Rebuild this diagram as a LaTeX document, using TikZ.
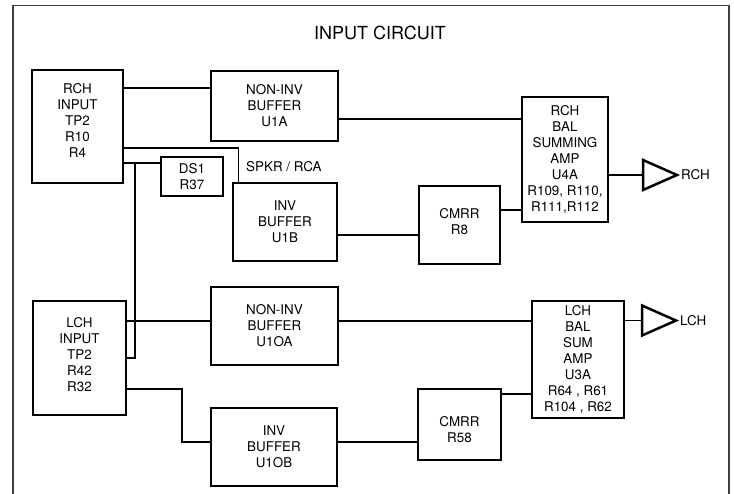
\documentclass[tikz,border=0pt]{standalone}
\usepackage{fontspec}
\setmainfont{TeX Gyre Heros}
\usetikzlibrary{shapes.geometric}
\begin{document}
\begin{tikzpicture}[x=1pt,y=-1pt,
  blk/.style={draw, line width=2.8pt, align=center, inner sep=0pt, outer sep=0pt, font=\fontsize{13.4}{16}\selectfont},
  wire/.style={line width=1.8pt},
  amp/.style={draw, isosceles triangle, isosceles triangle stretches, shape border rotate=0, minimum width=30pt, minimum height=34pt, inner sep=0pt, outer sep=0pt, line width=2.5pt, line join=miter},
  lbl/.style={font=\fontsize{13.4}{16}\selectfont, inner sep=0pt, align=center}]
\useasboundingbox (0,0) rectangle (734,493);
\draw[line width=1.4pt, black!75] (13,500) -- (13,5.5) -- (729,5.5) -- (729,500);
\node[font=\fontsize{18}{20}\selectfont] (title) at (380,33) {INPUT CIRCUIT};
% RCH boxes
\node[blk, minimum width=91pt, minimum height=113pt, label={[lbl, yshift=6pt]center:RCH\\INPUT\\TP2\\R10\\R4}] (rin) at (77.5,126.5) {};
\node[blk, minimum width=127pt, minimum height=70pt] (u1a) at (274.5,106) {NON-INV\\BUFFER\\U1A};
\node[blk, minimum width=104pt, minimum height=78pt] (u1b) at (285,222) {INV\\BUFFER\\U1B};
\node[blk, minimum width=81pt, minimum height=78pt, label={[lbl, yshift=3pt]center:CMRR\\R8}] (cm8) at (459.5,225) {};
\node[blk, minimum width=86pt, minimum height=125pt] (rbal) at (565,159.5) {RCH\\BAL\\SUMMING\\AMP\\U4A\\R109, R110,\\R111,R112};
\node[blk, minimum width=62pt, minimum height=39pt] (ds1) at (192,176.5) {DS1\\R37};
\node[amp, anchor=lower side] (amp1) at (643,175) {};
\node[lbl, anchor=west] (rchout) at ([xshift=4pt]amp1.apex) {RCH};
\node[lbl, anchor=west] (spkr) at (246,167) {SPKR / RCA};
% LCH boxes
\node[blk, minimum width=93pt, minimum height=114pt, label={[lbl, yshift=3.5pt]center:LCH\\INPUT\\TP2\\R42\\R32}] (lin) at (79.5,358) {};
\node[blk, minimum width=127pt, minimum height=78pt] (u1oa) at (274.5,326) {NON-INV\\BUFFER\\U1OA};
\node[blk, minimum width=92pt, minimum height=117pt] (lbal) at (578,359.5) {LCH\\BAL\\SUM\\AMP\\U3A\\R64 , R61\\R104 , R62};
\node[blk, minimum width=126pt, minimum height=78pt] (u1ob) at (274,447) {INV\\BUFFER\\U1OB};
\node[blk, minimum width=83pt, minimum height=71pt, label={[lbl, yshift=-5pt]center:CMRR\\R58}] (cm58) at (459.5,424.5) {};
\node[amp, anchor=lower side] (amp2) at (642,320.5) {};
\node[lbl, anchor=west] (lchout) at ([xshift=4pt]amp2.apex) {LCH};
% junctions
\coordinate (j1) at (135,163);
\coordinate (j2) at (182,442);
% RCH wires
\draw[wire] (rin.east |- 0,88) -- (u1a.west |- 0,88);
\draw[wire] (u1a.east |- 0,119) -- (rbal.west |- 0,119);
\draw[wire] (rin.east |- 0,148) -| ([xshift=5.5pt]u1b.north west);
\draw[wire] (rin.east |- j1) -- (ds1.west |- j1);
\draw[wire] (lin.east |- 0,358) -| (j1);
\draw[wire] (u1b.east |- 0,235) -- (cm8.west |- 0,235);
\draw[wire] (cm8.east |- 0,210) -- (rbal.west |- 0,210);
\draw[wire] (rbal.east |- amp1.lower side) -- (amp1.lower side);
% LCH wires
\draw[wire] (lin.east |- 0,321) -- (u1oa.west |- 0,321);
\draw[wire] (u1oa.east |- 0,321) -- (lbal.west |- 0,321);
\draw[wire] (lin.east |- 0,389) -| (j2) -- (u1ob.west |- j2);
\draw[wire] (u1ob.east |- j2) -- (cm58.west |- j2);
\draw[wire] (cm58.east |- 0,394) -- (lbal.west |- 0,394);
\draw[wire] (lbal.east |- amp2.lower side) -- (amp2.lower side);
\end{tikzpicture}
\end{document}
